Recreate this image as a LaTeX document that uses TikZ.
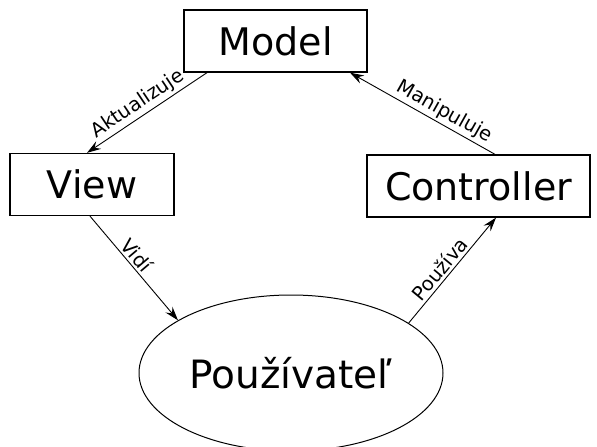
\documentclass[tikz,border=0pt]{standalone}
\usepackage{fontspec}
\setmainfont{DejaVu Sans}
\usepackage{tikz}
\usetikzlibrary{arrows.meta,shapes.geometric}

\begin{document}
\begin{tikzpicture}[x=1pt,y=-1pt,
	box/.style={draw,line width=1.3pt,minimum height=62pt,inner sep=0pt,font=\fontsize{38}{46}\selectfont},
	lbl/.style={sloped,above,inner sep=2.5pt,font=\fontsize{19.5}{23}\selectfont},
	arr/.style={-{Stealth[length=14pt,width=9pt,inset=5pt]},line width=0.9pt}]
	\useasboundingbox (0,0) rectangle (597,447);
	\node[box,minimum width=183pt] at (275.5,41) (model) {Model};
	\node[box,minimum width=164pt] at (92,184.5) (view) {View};
	\node[box,minimum width=223pt] at (478.5,186) (controller) {Controller};
	\node[draw,ellipse,line width=1pt,minimum width=304pt,minimum height=156pt,inner sep=0pt,
		font=\fontsize{39}{47}\selectfont] at (291,373) (user) {Používateľ};
	\draw [arr] ([xshift=-68.5pt] model.south) -- ([xshift=-5pt] view.north) node[lbl,pos=0.52] {Aktualizuje};
	\draw [arr] ([xshift=16.5pt] controller.north) -- ([xshift=74.5pt] model.south) node[lbl,pos=0.39] {Manipuluje};
	\draw [arr] ([xshift=-2pt] view.south) -- (user.155) node[lbl,pos=0.44] {Vidí};
	\draw [arr] (user.23) -- ([xshift=17.5pt] controller.south) node[lbl,pos=0.45] {Používa};
\end{tikzpicture}
\end{document}
